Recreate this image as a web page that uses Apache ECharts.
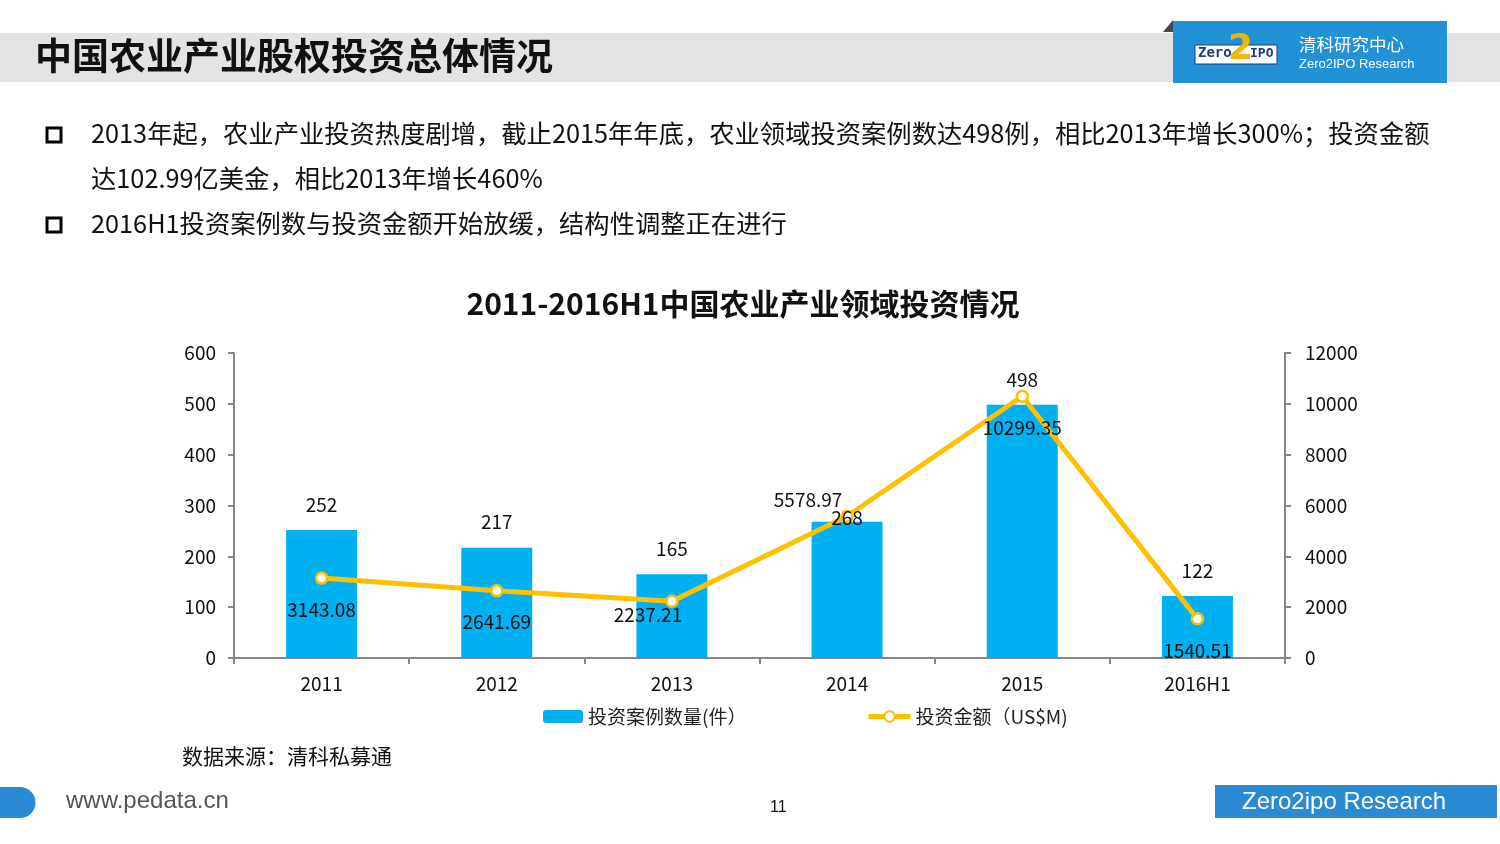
<!DOCTYPE html>
<html><head><meta charset="utf-8">
<script src="https://cdn.jsdelivr.net/npm/echarts@6/dist/echarts.min.js"></script>
<style>html,body{margin:0;padding:0;background:#fff}#c{width:1500px;height:844px}</style>
</head><body><div id="c"></div>
<script>
const categories = ['2011','2012','2013','2014','2015','2016H1'];
const caseCounts = [252, 217, 165, 268, 498, 122];
const amounts = [3143.08, 2641.69, 2237.21, 5578.97, 10299.35, 1540.51];
const leftTicks = {min:0, max:600, interval:100};
const rightTicks = {min:0, max:12000, interval:2000};
const barName = '投资案例数量(件）';
const lineName = '投资金额（US$M)';

const FONT = '"Noto Sans CJK SC", "Noto Sans", sans-serif';
const chart = echarts.init(document.getElementById('c'), null, {renderer:'canvas'});

const barLabelOffsets = [[0,0],[0,0],[0,0],[0,22],[0,0],[0,0]];
const lineLabelCfg = [
  {position:'bottom', offset:[0,7]},
  {position:'bottom', offset:[0,7]},
  {position:'bottom', offset:[-24,-11]},
  {position:'top', offset:[-39,8]},
  {position:'bottom', offset:[0,7]},
  {position:'bottom', offset:[0,8]}
];

function txt(x, y, text, size, fill, opts) {
  return {type:'text', x:x, y:y, style:Object.assign({text:text, fontFamily:FONT, fontSize:size, fill:fill, textVerticalAlign:'top'}, opts||{})};
}

chart.setOption({
  animation:false,
  textStyle:{fontFamily:FONT},
  title:{
    text:'2011-2016H1中国农业产业领域投资情况',
    left:738, top:284, textAlign:'center',
    textStyle:{fontFamily:FONT, fontSize:30, fontWeight:'bold', color:'#111'}
  },
  legend:[
    {data:[barName], left:538, top:702, itemWidth:40, itemHeight:13, itemGap:4,
     textStyle:{fontFamily:FONT, fontSize:19, color:'#222'}},
    {data:[lineName], left:861, top:702, itemWidth:42, itemHeight:13,
     lineStyle:{width:5},
     textStyle:{fontFamily:FONT, fontSize:19, color:'#222'}}
  ],
  grid:{left:234, right:215, top:353, bottom:186, containLabel:false},
  xAxis:{
    type:'category', data:categories, boundaryGap:true,
    axisLine:{lineStyle:{color:'#868686', width:2}},
    axisTick:{show:true, inside:false, length:6, lineStyle:{color:'#868686', width:2}},
    axisLabel:{fontFamily:FONT, fontSize:19, color:'#111', margin:16}
  },
  yAxis:[
    {type:'value', min:leftTicks.min, max:leftTicks.max, interval:leftTicks.interval,
     axisLine:{show:true, lineStyle:{color:'#868686', width:2}},
     axisTick:{show:true, length:6, lineStyle:{color:'#868686', width:2}},
     splitLine:{show:false},
     axisLabel:{fontFamily:FONT, fontSize:19, color:'#111', margin:18}},
    {type:'value', min:rightTicks.min, max:rightTicks.max, interval:rightTicks.interval,
     position:'right',
     axisLine:{show:true, lineStyle:{color:'#868686', width:2}},
     axisTick:{show:true, length:6, lineStyle:{color:'#868686', width:2}},
     splitLine:{show:false},
     axisLabel:{fontFamily:FONT, fontSize:19, color:'#111', margin:20, formatter:v=>String(v)}}
  ],
  series:[
    {name:barName, type:'bar', yAxisIndex:0, barWidth:71,
     itemStyle:{color:'#00B0F0'},
     data:caseCounts,
     label:{show:false}},
    {name:lineName, type:'line', yAxisIndex:1,
     symbol:'circle', symbolSize:11, showAllSymbol:true,
     lineStyle:{color:'#FFC000', width:5},
     itemStyle:{color:'#fff', borderColor:'#FFC000', borderWidth:2.5},
     data:amounts.map((v,i)=>({value:v, label:lineLabelCfg[i]})),
     label:{show:true, distance:8, fontFamily:FONT, fontSize:19, color:'#111',
       formatter:p=>p.value.toFixed(2)},
     z:5},
    {name:'barLabels', type:'bar', yAxisIndex:0, barWidth:71, barGap:'-100%', silent:true,
     itemStyle:{color:'rgba(0,0,0,0)'},
     data:caseCounts.map((v,i)=>({value:v, label:{offset:barLabelOffsets[i]}})),
     label:{show:true, position:'top', distance:16, fontFamily:FONT, fontSize:19, color:'#111'},
     z:10}
  ],
  graphic:{elements:[
    {type:'rect', shape:{x:0,y:33,width:1500,height:49}, style:{fill:'#E3E3E3'}, z:-1},
    txt(35, 37, '中国农业产业股权投资总体情况', 37, '#111', {fontWeight:'bold'}),
    {type:'polygon', shape:{points:[[1163,32],[1173,20],[1173,32]]}, style:{fill:'#3a4a5a'}},
    {type:'rect', shape:{x:1173,y:21,width:274,height:62}, style:{fill:'#2291D6'}},
    {type:'rect', shape:{x:1195,y:45,width:82,height:19}, style:{fill:'#fff', stroke:'#1a3b8a', lineWidth:1}},
    txt(1198, 46, 'Zero', 14, '#1a3b8a', {fontFamily:'DejaVu Sans Mono', fontWeight:'bold'}),
    txt(1250, 47, 'IPO', 13, '#1a3b8a', {fontFamily:'DejaVu Sans Mono', fontWeight:'bold'}),
    txt(1228, 32, '2', 36, '#F2B600', {fontFamily:'DejaVu Sans', fontWeight:'bold'}),
    txt(1299, 36, '清科研究中心', 17.5, '#fff'),
    txt(1299, 58, 'Zero2IPO Research', 13, '#fff', {fontFamily:'Liberation Sans'}),
    {type:'rect', shape:{x:47,y:128,width:14,height:14}, style:{fill:'none', stroke:'#000', lineWidth:3}},
    {type:'rect', shape:{x:47,y:218,width:14,height:14}, style:{fill:'none', stroke:'#000', lineWidth:3}},
    txt(91, 121, '2013年起，农业产业投资热度剧增，截止2015年年底，农业领域投资案例数达498例，相比2013年增长300%；投资金额', 25.3, '#111'),
    txt(91, 166, '达102.99亿美金，相比2013年增长460%', 25.3, '#111'),
    txt(91, 211, '2016H1投资案例数与投资金额开始放缓，结构性调整正在进行', 25.3, '#111'),
    txt(182, 746, '数据来源：清科私募通', 21, '#111'),
    {type:'rect', shape:{x:0,y:787,width:20,height:31}, style:{fill:'#2A8AD4'}},
    {type:'circle', shape:{cx:20,cy:802.5,r:15.5}, style:{fill:'#2A8AD4'}},
    txt(66, 789, 'www.pedata.cn', 24, '#555', {fontFamily:'Liberation Sans'}),
    txt(770, 800, '11', 16, '#111', {fontFamily:'Liberation Sans'}),
    {type:'rect', shape:{x:1215,y:785,width:282,height:33}, style:{fill:'#2A8AD4'}},
    txt(1242, 790, 'Zero2ipo Research', 24, '#fff', {fontFamily:'Liberation Sans'})
  ]}
});
</script></body></html>
